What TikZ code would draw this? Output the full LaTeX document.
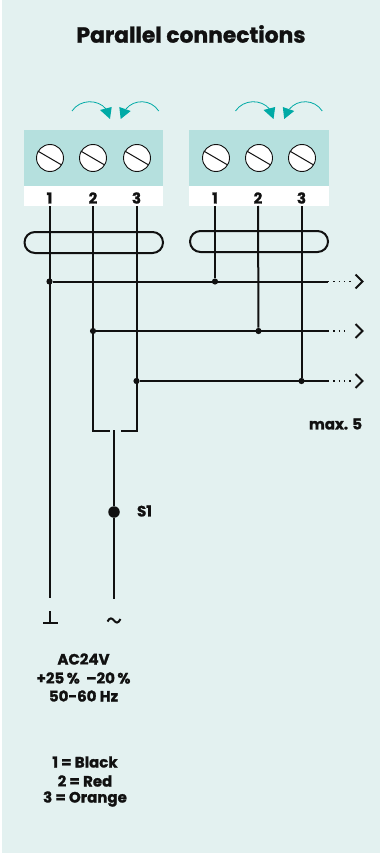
\documentclass[tikz,border=0pt]{standalone}
\usepackage{fontspec}
\setmainfont{Poppins}[BoldFont={Poppins Bold},BoldFeatures={FakeBold=1.2}]
\definecolor{panel}{HTML}{E3F1F0}
\definecolor{block}{HTML}{B5E0DE}
\definecolor{teal}{HTML}{00AAA6}
\definecolor{ink}{HTML}{111111}
\tikzset{
  wire/.style={draw=ink,line width=2pt},
  tie/.style={draw=ink,line width=2pt,rounded corners=10.4pt},
  screw/.style={circle,draw=ink,fill=white,line width=0.9pt,minimum size=27pt,inner sep=0pt},
  slot/.style={draw=ink,line width=1pt},
  junction/.style={circle,fill=ink,inner sep=0pt,minimum size=6.2pt},
  bigdot/.style={circle,fill=ink,inner sep=0pt,minimum size=11.5pt},
  lab/.style={font=\bfseries\fontsize{15}{18}\selectfont,text=ink,inner sep=0pt,anchor=center},
  num/.style={font=\bfseries\fontsize{15}{18}\selectfont,text=ink,inner sep=0pt},
  title/.style={font=\bfseries\fontsize{21.8}{24}\selectfont,text=ink,inner sep=0pt},
  swing/.style={draw=teal,line width=0.8pt},
  tip/.style={fill=teal,draw=none},
  more/.style={draw=ink,line width=1.1pt,dash pattern=on 1.3pt off 4pt},
  chev/.style={draw=ink,line width=2pt}
}
\begin{document}
\begin{tikzpicture}[x=1pt,y=-1pt]
\useasboundingbox (0,0) rectangle (380,853);
\fill[white] (0,0) rectangle (380,853);
\fill[panel] (2,0) rectangle (380,853);
\node[title] (t) at (191,34) {Parallel connections};
% terminal blocks
\fill[block] (24,130) rectangle (163,186);
\fill[white] (24,186) rectangle (163,206);
\fill[block] (189,130) rectangle (329,186);
\fill[white] (189,186) rectangle (329,206);
\foreach \n/\x in {a/50,b/93,c/137,d/216,e/259,f/302}{
  \node[screw] (s\n) at (\x,158) {};
  \draw[slot] (\x-12.3,151) -- (\x+11.7,165);
}
\foreach \n/\x/\l in {a/49.5/1,b/93/2,c/136.5/3,d/215/1,e/258/2,f/301.5/3}{
  \node[num] (n\n) at (\x,198) {\l};
}
% swing arrows
\foreach \d in {0,163.5}{
  \begin{scope}[xshift=\d pt]
    \draw[swing] (72,111) .. controls (80,99) and (98,99) .. (106,109);
    \fill[tip] (110,119) -- (100,110) -- (111.7,107) -- cycle;
    \draw[swing] (158.7,111) .. controls (151,99) and (134,99) .. (126,109);
    \fill[tip] (120.7,119) -- (119.3,107) -- (130.7,111) -- cycle;
  \end{scope}
}
% cable ties
\draw[tie] (24.5,232) rectangle (163,253);
\draw[tie] (190,231) rectangle (328,252);
% coordinates
\coordinate (w1t) at (49.5,206); \coordinate (w1b) at (49.5,598);
\coordinate (w2t) at (93,206); \coordinate (w2b) at (93,431);
\coordinate (w3t) at (136.5,206); \coordinate (w3b) at (136.5,431);
\coordinate (w4t) at (215,206); \coordinate (w5t) at (258,206); \coordinate (w6t) at (301.5,206);
\node[junction] (j1) at (49.5,281.5) {};
\node[junction] (j2) at (93,331) {};
\node[junction] (j3) at (136.5,381) {};
\node[junction] (j4) at (215,281.5) {};
\node[junction] (j5) at (258.5,331) {};
\node[junction] (j6) at (301.5,381) {};
\coordinate (e1) at (328,281.5); \coordinate (e2) at (328,331); \coordinate (e3) at (328,381);
\coordinate (d1) at (352,281.5); \coordinate (d2) at (347,331); \coordinate (d3) at (353,381);
\draw[wire] (w1t) -- (w1b);
\draw[wire] (w2t) -- (w2b) -- (110,431);
\draw[wire] (w3t) -- (w3b) -- (121,431);
\draw[wire] (w4t) -- (j4);
\draw[wire] (w5t) -- (j5);
\draw[wire] (w6t) -- (j6);
\draw[wire] (j1) -- (e1);
\draw[wire] (j2) -- (e2);
\draw[wire] (j3) -- (e3);
\draw[more] (e1) -- (d1);
\draw[more] (e2) -- (d2);
\draw[more] (e3) -- (d3);
\draw[chev] (355.5,274.5) -- (362.5,281.5) -- (355.5,288.5);
\draw[chev] (355.5,324) -- (362.5,331) -- (355.5,338);
\draw[chev] (355.5,374) -- (362.5,381) -- (355.5,388);
% S1 wire
\coordinate (st) at (114,430);
\coordinate (sb) at (114,599);
\node[bigdot] (s1) at (114,512) {};
\draw[wire] (st) -- (s1) -- (sb);
\node[lab] (ls1) at (144.5,511) {S1};
\node[lab] (lmax) at (335.5,424) {max. 5};
% ground and tilde
\coordinate (g1) at (50,611); \coordinate (g2) at (50,623);
\coordinate (g3) at (43,623); \coordinate (g4) at (58,623);
\draw[wire,line width=1.5pt] (g1) -- (g2);
\draw[wire,line width=1.5pt] (g3) -- (g4);
\draw[wire] (107.5,621.5) .. controls (110,617) and (112,618) .. (114,620.5) .. controls (116,623) and (118,624) .. (120.5,619);
% texts
\node[lab] (l1) at (83.5,659) {AC24V};
\node[lab] (l2) at (83.5,678) {+25\,\%\ \ –20\,\%};
\node[lab] (l3) at (83.5,696) {50-60 Hz};
\node[lab] (l4) at (85,762) {1 = Black};
\node[lab] (l5) at (85,781) {2 = Red};
\node[lab] (l6) at (85,799) {3 = Orange};
\end{tikzpicture}
\end{document}
